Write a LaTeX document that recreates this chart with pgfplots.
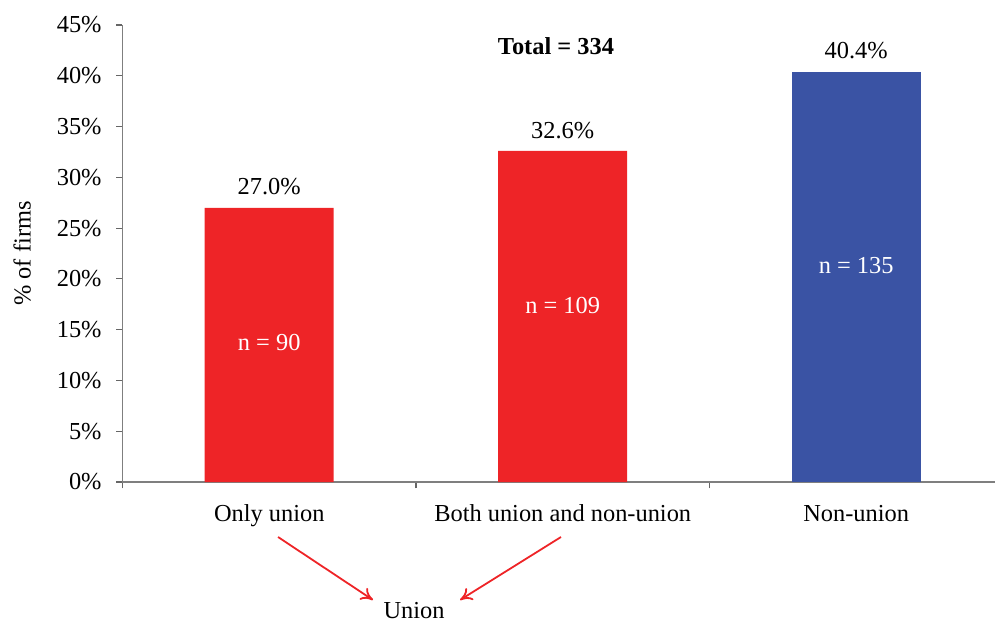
\documentclass[border=0pt]{standalone}
\usepackage{fontspec}
\setmainfont{Liberation Serif}
\usepackage{pgfplots}
\pgfplotsset{compat=1.18}
\usepackage{pgfplotstable}
\usetikzlibrary{arrows.meta}

\definecolor{unionred}{HTML}{EE2427}
\definecolor{nonblue}{HTML}{3A53A4}
\definecolor{axisgray}{HTML}{7F7F7F}

% share of firms (%), n
\pgfplotstableread{
x share n
0 27.0 90
1 32.6 109
}\uniondata
\pgfplotstableread{
x share n
2 40.4 135
}\nonuniondata

\begin{document}
\fontsize{12.2}{14}\selectfont
\begin{tikzpicture}
\begin{axis}[
    at={(61.25pt,69.5pt)}, anchor=south west,
    scale only axis,
    width=436.25pt, height=228.5pt,
    ybar, bar width=64.5pt, bar shift=0pt,
    xmin=-0.5, xmax=2.473,
    ymin=0, ymax=45,
    ytick={0,5,...,45},
    yticklabel={\pgfmathprintnumber{\tick}\%},
    /pgf/number format/assume math mode=true,
    xtick={-0.5,0.5,1.5},
    xticklabels={},
    extra x ticks={0,1,2},
    extra x tick labels={Only union, Both union and non-union, Non-union},
    extra x tick style={major tick length=0pt,
        xticklabel style={yshift=-6.5pt, text height=1.6ex, text depth=0.45ex}},
    axis lines*=left,
    axis line style={draw=axisgray, line width=0.6pt},
    tick style={draw=black!60, line width=0.6pt},
    tick align=outside,
    major tick length=3.2pt,
    yticklabel style={xshift=-3pt},
    ylabel={\% of firms},
    every axis y label/.style={at={(axis description cs:-0.115,0.5)}, rotate=90, anchor=center},
    nodes near coords={\pgfmathprintnumber[fixed,fixed zerofill,precision=1]{\pgfplotspointmeta}\%},
    every node near coord/.append style={anchor=center, yshift=10.4pt, text=black},
    clip=false,
]
\addplot[fill=unionred, draw=none] table[x=x, y=share] {\uniondata};
\addplot[fill=nonblue, draw=none] table[x=x, y=share] {\nonuniondata};
\node[text=white] at (axis cs:0,13.7) {n = 90};
\node[text=white] at (axis cs:1,17.4) {n = 109};
\node[text=white] at (axis cs:2,21.3) {n = 135};
\node[font=\bfseries] at (axis cs:0.977,42.93) {Total = 334};
\end{axis}
\draw[unionred, line width=0.9pt, -{To[length=6pt,width=7pt]}] (139pt,42pt) -- (186.5pt,10.5pt);
\draw[unionred, line width=0.9pt, -{To[length=6pt,width=7pt]}] (280.5pt,42pt) -- (230pt,10.5pt);
\node[anchor=base, inner sep=0pt] at (207pt,1.5pt) {Union};
\pgfresetboundingbox
\useasboundingbox (0,0) rectangle (497.5pt,310.5pt);
\end{tikzpicture}
\end{document}
